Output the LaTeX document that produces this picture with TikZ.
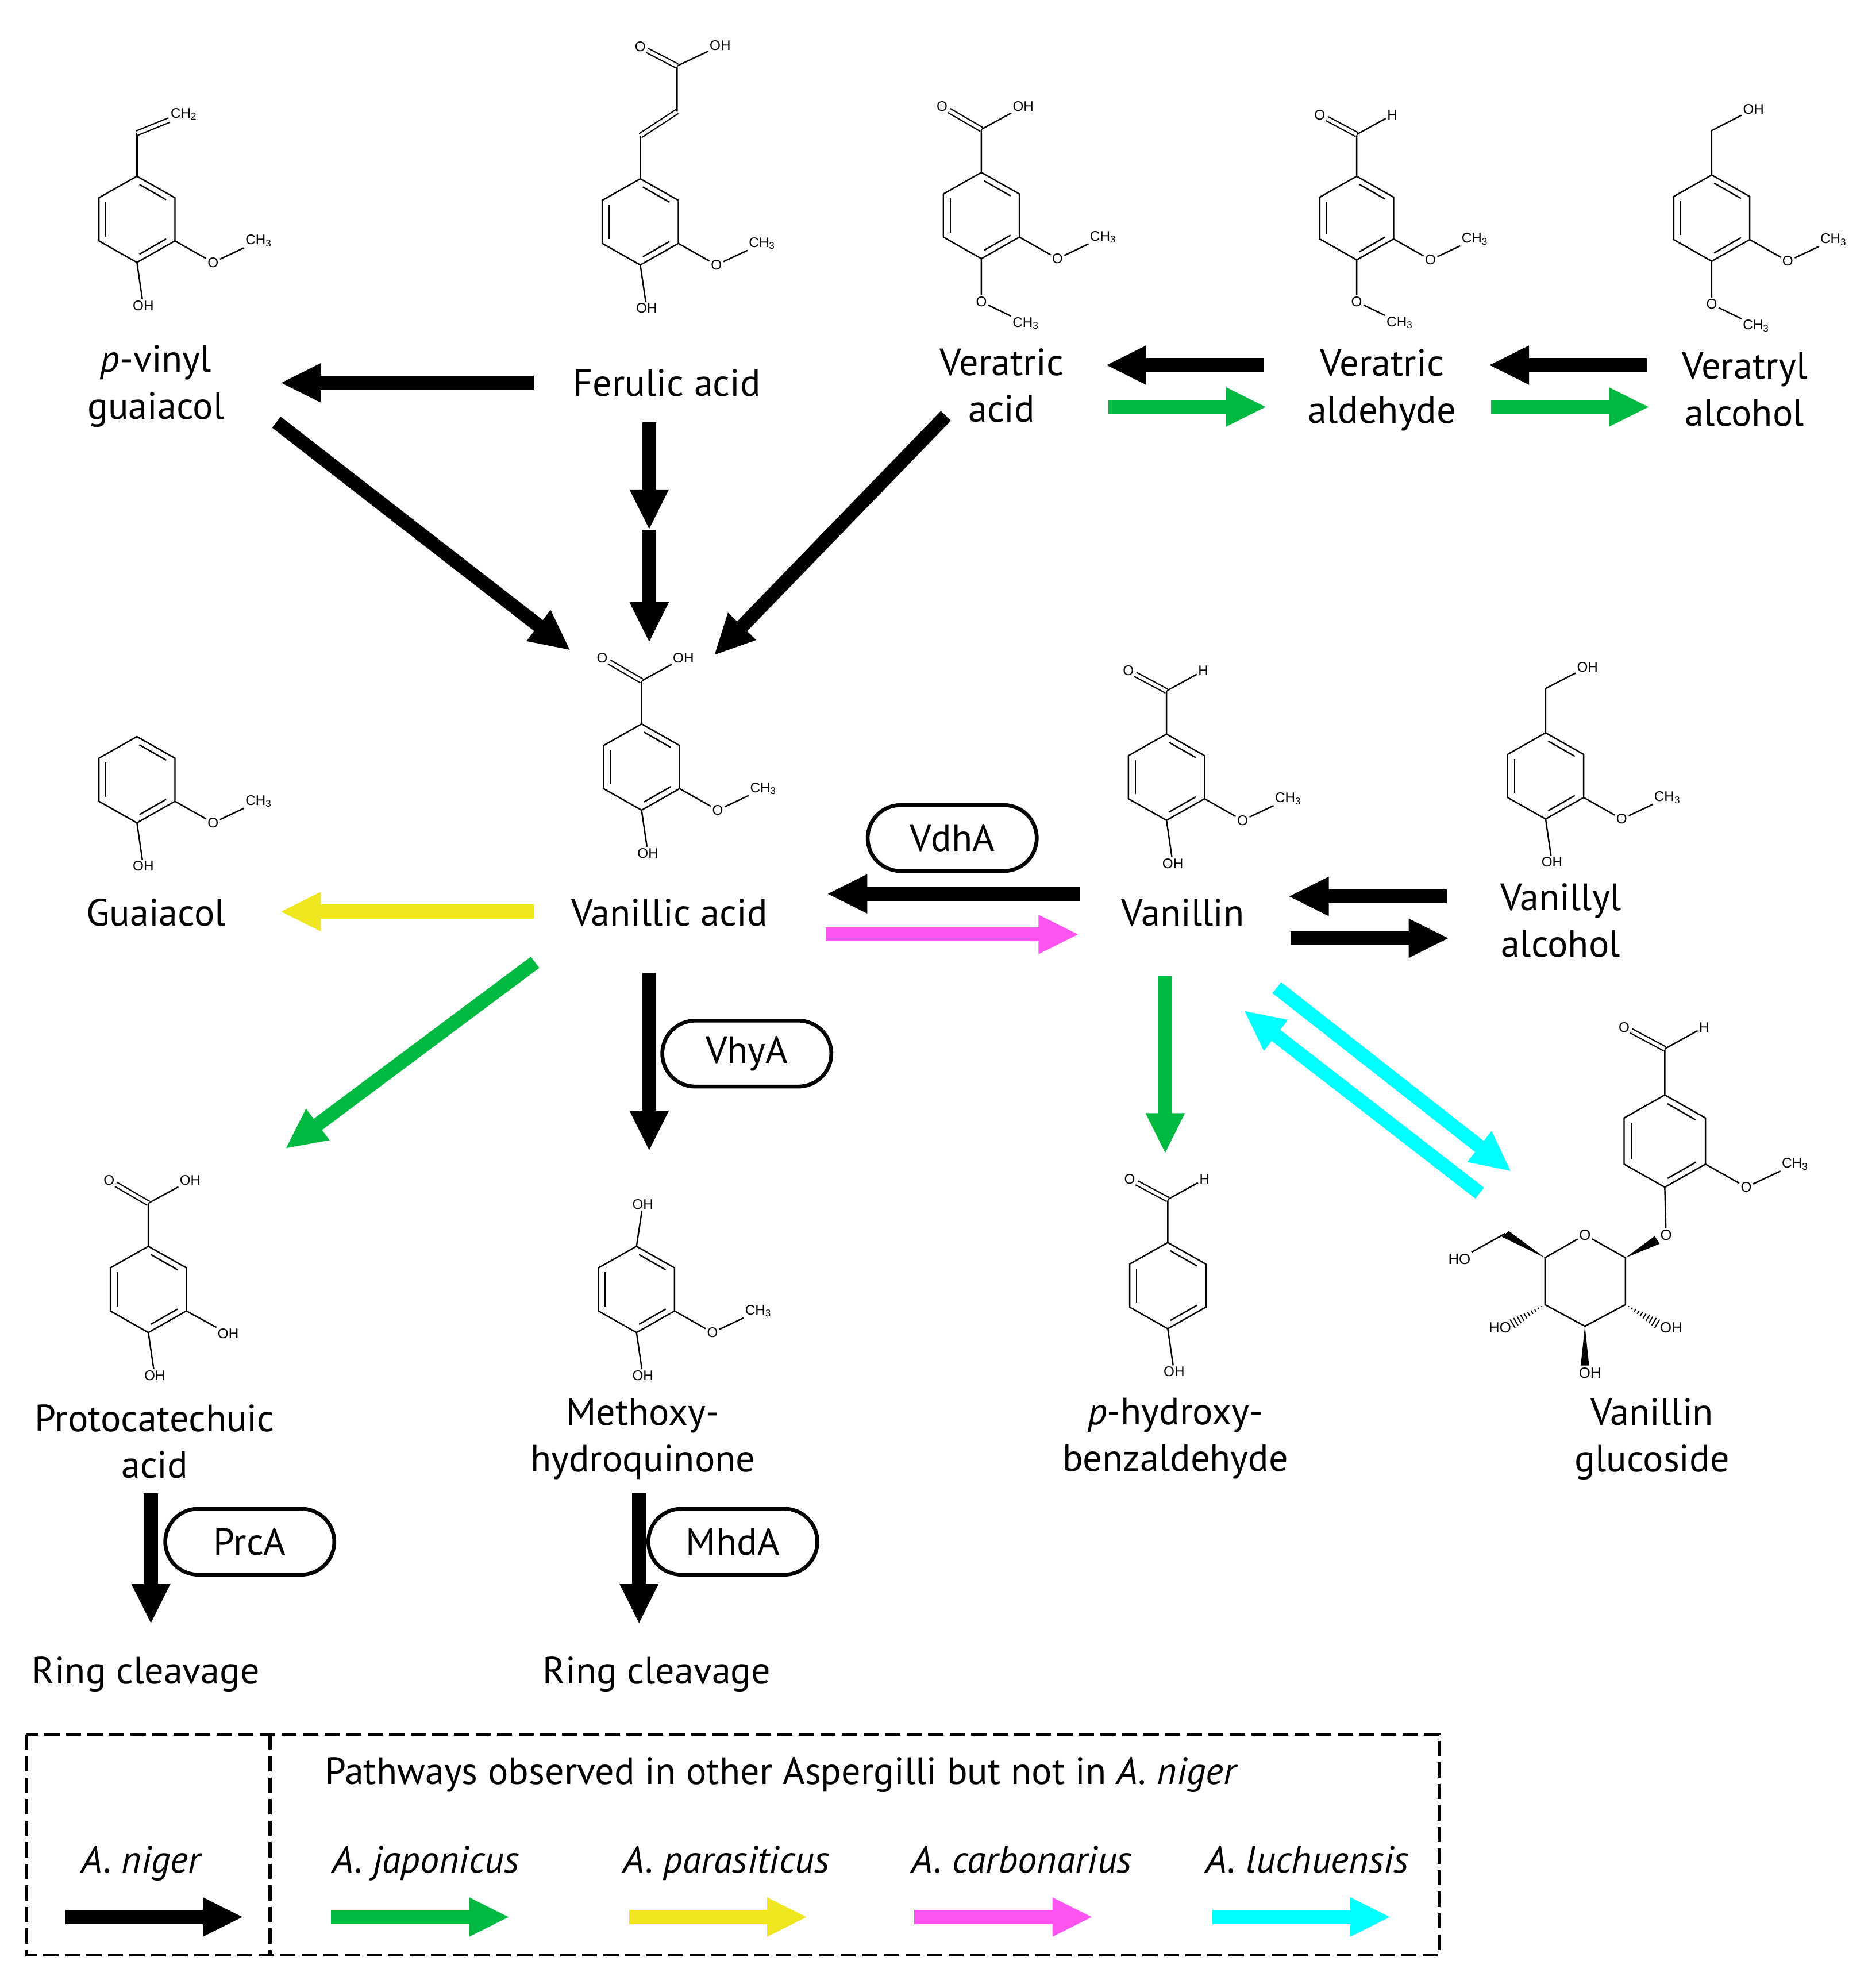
\documentclass[tikz,border=0pt]{standalone}
\usepackage{fontspec}
\usepackage{xcolor}
\usetikzlibrary{arrows.meta,calc,shapes.misc}
\setmainfont{PT Sans}
\newfontfamily\chemfont{Liberation Sans}
\definecolor{pathgreen}{HTML}{00B941}
\definecolor{pathyellow}{HTML}{F0E620}
\definecolor{pathpink}{HTML}{FF55F0}
\definecolor{pathcyan}{HTML}{00FFFF}
\newcommand{\hashbond}[2]{%
  \foreach \t in {.1,.2,...,1}
    \draw[line width=.9pt] ($(#1)!\t!(#2)!{\t*3.8pt}!90:(#2)$) -- ($(#1)!\t!(#2)!{\t*3.8pt}!-90:(#2)$);}
\tikzset{
  bond/.style={line width=1.1pt},
  dbl/.style={line width=1pt, double, double distance=2.6pt},
  atom/.style={inner sep=1pt, font=\chemfont\fontsize{11}{13}\selectfont},
  bigatom/.style={inner sep=1pt, font=\chemfont\fontsize{11.7}{13}\selectfont},
  ring/.pic={
    \coordinate (-c) at (0,0);
    \coordinate (-t) at (0,-34);
    \coordinate (-ur) at (30,-17);
    \coordinate (-lr) at (30,17);
    \coordinate (-b) at (0,34);
    \coordinate (-ll) at (-30,17);
    \coordinate (-ul) at (-30,-17);
    \draw[bond] (-t) -- (-ur) -- (-lr) -- (-b) -- (-ll) -- (-ul) -- cycle;
    \draw[bond] (2,-27.5) -- (23,-15.5);
    \draw[bond] (23,15.5) -- (2,27.5);
    \draw[bond] (-24.5,-13.5) -- (-24.5,13.5);
  },
  methoxy/.pic={
    \node[atom] (-o) at (60,34) {O};
    \node[atom] (-me) at (96,17) {CH\textsubscript{3}};
    \draw[bond] (-lr) -- (-o) -- (-me);
  },
  paraoh/.pic={
    \node[atom] (-poh) at (5,68) {OH};
    \draw[bond] (-b) -- (-poh);
  },
  parameth/.pic={
    \node[atom] (-po) at (0,68) {O};
    \node[atom] (-pme) at (35,85) {CH\textsubscript{3}};
    \draw[bond] (-b) -- (-po) -- (-pme);
  },
  acid/.pic={
    \coordinate (-k) at (0,-68);
    \node[atom] (-ko) at (-31,-86) {O};
    \node[atom] (-koh) at (33,-86) {OH};
    \draw[bond] (-t) -- (-k) -- (-koh);
    \draw[dbl] (-k) -- (-ko);
  },
  aldehyde/.pic={
    \coordinate (-k) at (0,-68);
    \node[atom] (-ko) at (-30,-84) {O};
    \node[atom] (-kh) at (29,-84) {H};
    \draw[bond] (-t) -- (-k) -- (-kh);
    \draw[dbl] (-k) -- (-ko);
  },
  alcohol/.pic={
    \coordinate (-k) at (0,-69);
    \node[atom] (-koh) at (33,-86) {OH};
    \draw[bond] (-t) -- (-k) -- (-koh);
  },
}
\begin{document}
\begin{tikzpicture}[x=1pt, y=-1pt]
    % Define styles
    \tikzstyle{compound} = [align=center, inner sep=0pt, font=\fontsize{30}{37}\selectfont]
    \tikzstyle{enzyme} = [rounded rectangle, draw, line width=3pt, minimum width=140pt, minimum height=52pt, font=\fontsize{30}{37}\selectfont]
    \tikzstyle{arrow} = [line width=11pt, -{Triangle[length=32pt,width=28.5pt]}]
    \tikzstyle{legendbox} = [line width=2.5pt, dash pattern=on 12pt off 5pt]
    \useasboundingbox (0,0) rectangle (1473,1568);

    % Structures
    \path (108,173) pic (mvin) {ring} pic (mvin) {methoxy} pic (mvin) {paraoh};
    \coordinate (mvin-k) at (108,105);
    \node[atom] (mvin-ch) at (145,90) {CH\textsubscript{2}};
    \draw[bond] (mvin-t) -- (mvin-k);
    \draw[dbl] (mvin-k) -- (mvin-ch);

    \path (505,175) pic (mfer) {ring} pic (mfer) {methoxy} pic (mfer) {paraoh};
    \coordinate (mfer-a) at (505,107);
    \coordinate (mfer-e) at (534,88);
    \coordinate (mfer-k) at (534,52);
    \node[atom] (mfer-ko) at (505,37) {O};
    \node[atom] (mfer-koh) at (568,36) {OH};
    \draw[bond] (mfer-t) -- (mfer-a);
    \draw[dbl] (mfer-a) -- (mfer-e);
    \draw[bond] (mfer-e) -- (mfer-k) -- (mfer-koh);
    \draw[dbl] (mfer-k) -- (mfer-ko);

    \path (774,170) pic (mvra) {ring} pic (mvra) {methoxy} pic (mvra) {parameth} pic (mvra) {acid};
    \path (1070,172) pic[scale=.97] (mvrd) {ring} pic[scale=.97] (mvrd) {methoxy} pic[scale=.97] (mvrd) {parameth} pic[scale=.97] (mvrd) {aldehyde};
    \path (1350,172) pic (mvrl) {ring} pic (mvrl) {methoxy} pic (mvrl) {parameth} pic (mvrl) {alcohol};
    \path (108,615) pic (mgua) {ring} pic (mgua) {methoxy} pic (mgua) {paraoh};
    \path (506,605) pic (mvan) {ring} pic (mvan) {methoxy} pic (mvan) {paraoh} pic (mvan) {acid};
    \path (920,613) pic (mvnl) {ring} pic (mvnl) {methoxy} pic (mvnl) {paraoh} pic (mvnl) {aldehyde};
    \path (1219,612) pic (mval) {ring} pic (mval) {methoxy} pic (mval) {paraoh} pic (mval) {alcohol};

    \path (117,1017) pic (mpro) {ring} pic (mpro) {paraoh} pic (mpro) {acid};
    \node[atom] (mpro-roh) at (180,1052) {OH};
    \draw[bond] (mpro-lr) -- (mpro-roh);

    \path (502,1017) pic (mmhq) {ring} pic (mmhq) {methoxy} pic (mmhq) {paraoh};
    \node[atom] (mmhq-toh) at (507,950) {OH};
    \draw[bond] (mmhq-t) -- (mmhq-toh);

    \path (921,1014) pic (mhbz) {ring} pic (mhbz) {paraoh} pic (mhbz) {aldehyde};

    % Glucoside
    \path (1313,900) pic[scale=1.07] (mglc) {ring} pic[scale=1.07] (mglc) {methoxy} pic[scale=1.07] (mglc) {aldehyde};
    \node[bigatom] (mglc-po) at (1314,974) {O};
    \node[bigatom] (mglc-ro) at (1250,974) {O};
    \coordinate (mglc-c1) at (1282,992);
    \coordinate (mglc-c2) at (1282,1029);
    \coordinate (mglc-c3) at (1250,1046);
    \coordinate (mglc-c4) at (1218.5,1029);
    \coordinate (mglc-c5) at (1218.5,992);
    \coordinate (mglc-c6) at (1187,973);
    \node[bigatom] (mglc-ho) at (1151,993) {HO};
    \node[bigatom] (mglc-hol) at (1183,1047) {HO};
    \node[bigatom] (mglc-ohr) at (1318,1047) {OH};
    \node[bigatom] (mglc-ohb) at (1254,1083) {OH};
    \draw[bond] (mglc-b) -- (mglc-po);
    \draw[bond] (mglc-c1) -- (mglc-ro) -- (mglc-c5) -- (mglc-c4) -- (mglc-c3) -- (mglc-c2) -- (mglc-c1);
    \draw[bond] (mglc-c6) -- (mglc-ho);
    \fill (mglc-c5) -- (1190,971) -- (1184.5,975.5) -- cycle;
    \fill (mglc-c1) -- (1305,975) -- (1309,981) -- cycle;
    \fill (mglc-c3) -- (1246.7,1077) -- (1253.3,1077) -- cycle;
    \coordinate (mglc-h1) at (1193,1044);
    \coordinate (mglc-h2) at (1307,1044);
    \hashbond{mglc-c4}{mglc-h1}
    \hashbond{mglc-c2}{mglc-h2}

    % Compound names
    \node [compound] (vinyl) at (123,304.5) {\textit{p}-vinyl\\guaiacol};
    \node [compound] (ferulic) at (526,302) {Ferulic acid};
    \node [compound] (veratric) at (790,304) {Veratric\\acid};
    \node [compound] (veraldehyde) at (1090,307.5) {Veratric\\aldehyde};
    \node [compound] (veralcohol) at (1376,307) {Veratryl\\alcohol};
    \node [compound] (guaiacol) at (123,720) {Guaiacol};
    \node [compound] (vanillic) at (528,720) {Vanillic acid};
    \node [compound] (vanillin) at (933,720) {Vanillin};
    \node [compound] (vanalcohol) at (1231,726) {Vanillyl\\alcohol};
    \node [compound] (proto) at (122,1137) {Protocatechuic\\acid};
    \node [compound] (methoxyhq) at (507,1135) {Methoxy-\\hydroquinone};
    \node [compound] (hydroxybenz) at (927,1134.5) {\textit{p}-hydroxy-\\benzaldehyde};
    \node [compound] (glucoside) at (1303,1135) {Vanillin\\glucoside};
    \node [compound] (cleavagea) at (115,1320.5) {Ring cleavage};
    \node [compound] (cleavageb) at (518,1320.5) {Ring cleavage};

    % Enzymes
    \node [enzyme] (vdha) at (751,661) {VdhA};
    \node [enzyme] (vhya) at (589,831) {VhyA};
    \node [enzyme] (prca) at (197,1216) {PrcA};
    \node [enzyme] (mhda) at (578,1216) {MhdA};

    % Top arrows
    \coordinate (ferstep) at (512,418);
    \draw [arrow] ([shift={(-105,0)}]ferulic.center) -- ([shift={(98,-2.5)}]vinyl.center);
    \draw [arrow] ([shift={(-14,31)}]ferulic.center) -- (ferstep);
    \draw [arrow] (ferstep) -- ([shift={(6,-98)}]mvan-c);
    \draw [arrow] ([shift={(95,28.5)}]vinyl.center) -- ([shift={(-56,-92)}]mvan-c);
    \draw [arrow] ([shift={(-44,24)}]veratric.center) -- ([shift={(57,-88)}]mvan-c);
    \draw [arrow] ([shift={(-93,-19.5)}]veraldehyde.center) -- ([shift={(82,-16)}]veratric.center);
    \draw [arrow, pathgreen] ([shift={(84,17)}]veratric.center) -- ([shift={(-91,13.5)}]veraldehyde.center);
    \draw [arrow] ([shift={(-77,-19)}]veralcohol.center) -- ([shift={(84,-19.5)}]veraldehyde.center);
    \draw [arrow, pathgreen] ([shift={(86,13.5)}]veraldehyde.center) -- ([shift={(-75,14)}]veralcohol.center);

    % Middle arrows
    \draw [arrow, pathyellow] ([shift={(-107,-1)}]vanillic.center) -- ([shift={(98,-1)}]guaiacol.center);
    \draw [arrow, pathgreen] ([shift={(-106,39)}]vanillic.center) -- ([shift={(108,-111)}]mpro-c);
    \draw [arrow] ([shift={(-16,47)}]vanillic.center) -- ([shift={(10,-109)}]mmhq-c);
    \draw [arrow] ([shift={(-81,-15)}]vanillin.center) -- ([shift={(124,-15)}]vanillic.center);
    \draw [arrow, pathpink] ([shift={(123,17)}]vanillic.center) -- ([shift={(-82,17)}]vanillin.center);
    \draw [arrow] ([shift={(-90,-19)}]vanalcohol.center) -- ([shift={(83,-13)}]vanillin.center);
    \draw [arrow] ([shift={(85,20)}]vanillin.center) -- ([shift={(-88,14)}]vanalcohol.center);
    \draw [arrow, pathgreen] ([shift={(-14,50)}]vanillin.center) -- ([shift={(-2,-104)}]mhbz-c);
    \draw [arrow, pathcyan] ([shift={(74,59)}]vanillin.center) -- ([shift={(-121,24)}]mglc-c);
    \draw [arrow, pathcyan] ([shift={(-146,41)}]mglc-c) -- ([shift={(48,77)}]vanillin.center);

    % Bottom arrows
    \draw [arrow] ([shift={(-3,41)}]proto.center) -- ([shift={(4,-39.5)}]cleavagea.center);
    \draw [arrow] ([shift={(-3,43)}]methoxyhq.center) -- ([shift={(-14,-39.5)}]cleavageb.center);

    % Legend
    \coordinate (boxtl) at (21,1368);
    \coordinate (boxbr) at (1135,1542);
    \coordinate (divtop) at (213,1368);
    \coordinate (divbot) at (213,1542);
    \draw [legendbox] (boxtl) rectangle (boxbr);
    \draw [legendbox] (divtop) -- (divbot);
    \node [compound, anchor=west] (legendhead) at (256,1400) {Pathways observed in other Aspergilli but not in \textit{A. niger}};
    \foreach \nm/\x/\tx/\col/\txt in {niger/51/112/black/A. niger, japonicus/261/336/pathgreen/A. japonicus, parasiticus/496/573/pathyellow/A. parasiticus, carbonarius/721/806/pathpink/A. carbonarius, luchuensis/956/1031/pathcyan/A. luchuensis} {
        \node [compound, anchor=base] (leg\nm) at (\tx,1477) {\textit{\txt}};
        \coordinate (leg\nm-a) at (\x,1512);
        \coordinate (leg\nm-b) at (\x+141,1512);
        \draw [arrow, \col] (leg\nm-a) -- (leg\nm-b);
    }
\end{tikzpicture}
\end{document}
